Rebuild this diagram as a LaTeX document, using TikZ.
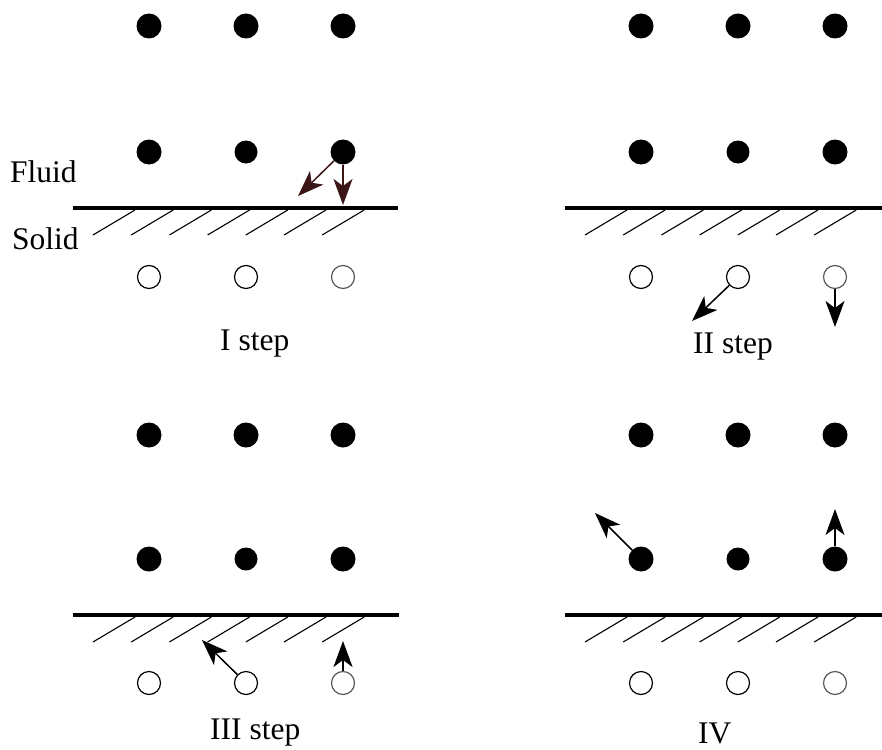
\documentclass[tikz,border=0pt]{standalone}
\usepackage{fontspec}
\setmainfont{Liberation Serif}
\usetikzlibrary{arrows.meta}
\definecolor{arrbrown}{RGB}{58,22,22}
\begin{document}
\begin{tikzpicture}[x=1pt,y=-1pt,
 fdot/.style={circle,fill=black,inner sep=0pt,minimum size=25pt},
 fdotsm/.style={fdot,minimum size=23pt},
 odot/.style={circle,draw=black,line width=1.2pt,fill=white,inner sep=0pt,minimum size=23pt},
 odotl/.style={odot,draw=black!65},
 wall/.style={line width=4.5pt},
 hatch/.style={line width=1.1pt},
 mvhead/.tip={Stealth[length=26pt,width=19pt,inset=7pt]},
 mv/.style={line width=1.5pt,-mvhead},
 lbl/.style={font=\fontsize{31.5}{36}\selectfont,inner sep=0pt,anchor=base west}]
\useasboundingbox (0,0) rectangle (882,749);
\foreach \p/\dx/\ty/\my/\wy/\oy/\we in {A/0/26/152/208/277/398, B/492/26/152/208/277/882, C/0/435/559/615/683/399, D/492/435/559/615/683/882}{
  \node[fdot] (\p-t1) at ({149+\dx},\ty) {};
  \node[fdot] (\p-t2) at ({246+\dx},\ty) {};
  \node[fdot] (\p-t3) at ({343+\dx},\ty) {};
  \node[fdot] (\p-m1) at ({149+\dx},\my) {};
  \node[fdotsm] (\p-m2) at ({246+\dx},\my) {};
  \node[fdot] (\p-m3) at ({343+\dx},\my) {};
  \node[odot] (\p-o1) at ({149+\dx},\oy) {};
  \node[odot] (\p-o2) at ({246+\dx},\oy) {};
  \node[odotl] (\p-o3) at ({343+\dx},\oy) {};
  \coordinate (\p-wl) at ({73+\dx},\wy);
  \coordinate (\p-wr) at (\we,\wy);
  \draw[wall] (\p-wl) -- (\p-wr);
  \foreach \h in {0,...,6}{
    \draw[hatch] ({135+\dx+38.2*\h},{\wy+2}) -- ++(-42,25);
  }
}
% step I
\coordinate (A-k1) at (298,196);
\coordinate (A-k2) at (343,205);
\draw[mv,draw=arrbrown,fill=arrbrown] (A-m3) -- (A-k1);
\draw[mv,draw=arrbrown,fill=arrbrown] (A-m3) -- (A-k2);
% step II
\coordinate (B-k1) at (692,321);
\coordinate (B-k2) at (835,327);
\draw[mv] (B-o2) -- (B-k1);
\draw[mv] (B-o3) -- (B-k2);
% step III
\coordinate (C-k1) at (202,640);
\coordinate (C-k2) at (343,641);
\draw[mv] (C-o2) -- (C-k1);
\draw[mv] (C-o3) -- (C-k2);
% step IV
\coordinate (D-k1) at (595,513);
\coordinate (D-k2) at (835,509);
\draw[mv] (D-m1) -- (D-k1);
\draw[mv] (D-m3) -- (D-k2);
% labels
\node[lbl] (fluid) at (10,182) {Fluid};
\node[lbl] (solid) at (12,249) {Solid};
\node[lbl] (s1) at (220,350) {I step};
\node[lbl] (s2) at (693,353) {II step};
\node[lbl] (s3) at (210,739) {III step};
\node[lbl] (s4) at (698,743) {IV};
\end{tikzpicture}
\end{document}
